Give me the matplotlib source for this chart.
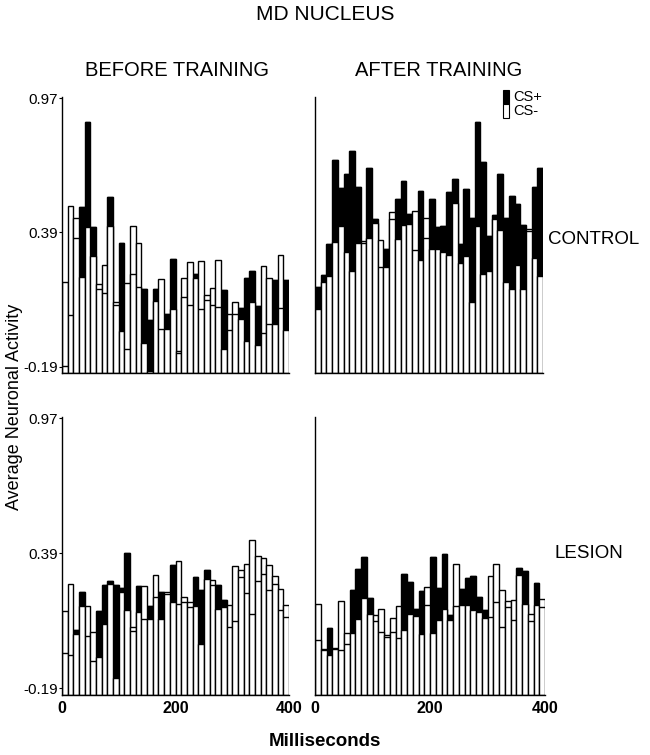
import numpy as np
import matplotlib
matplotlib.use("Agg")
import matplotlib.pyplot as plt
from matplotlib.patches import Rectangle

plt.rcParams['font.family'] = ['Liberation Sans', 'DejaVu Sans']

# 40 bins de 10 ms
bins = np.arange(0, 400, 10)
y_ticks = [-0.19, 0.39, 0.97]
y_labels = ["-0.19", "0.39", "0.97"]
x_ticks = [0, 200, 400]

# CONTROL, antes del entrenamiento
before_ctrl_plus = [-0.186, 0.032, 0.367, 0.501, 0.865, 0.413, 0.143, 0.126, 0.543, 0.074,
                    0.342, -0.116, 0.211, 0.155, 0.143, 0.013, 0.143, -0.027, 0.035, 0.276,
                    -0.131, 0.112, 0.074, 0.208, 0.057, 0.097, 0.074, 0.068, 0.139, -0.033,
                    0.039, 0.064, 0.191, 0.223, 0.071, -0.047, -0.008, 0.184, 0.064, 0.182]
before_ctrl_minus = [0.176, 0.504, 0.454, 0.198, 0.413, 0.288, 0.165, 0.249, 0.417, 0.090,
                     -0.037, 0.172, 0.417, 0.342, -0.088, -0.210, 0.093, 0.187, -0.027, 0.057,
                     -0.124, 0.194, 0.262, 0.194, 0.266, 0.117, 0.150, 0.270, -0.116, 0.039,
                     0.090, 0.016, -0.080, 0.090, -0.099, 0.244, 0.191, -0.008, 0.292, -0.033]

# CONTROL, despues del entrenamiento
after_ctrl_plus = [0.155, 0.205, 0.338, 0.703, 0.580, 0.644, 0.742, 0.586, 0.345, 0.666,
                   0.449, 0.240, 0.316, 0.446, 0.536, 0.612, 0.468, 0.314, 0.569, 0.367,
                   0.536, 0.415, 0.417, 0.566, 0.622, 0.338, 0.579, 0.453, 0.865, 0.692,
                   0.374, 0.465, 0.644, 0.453, 0.547, 0.514, 0.422, 0.396, 0.588, 0.670]
after_ctrl_minus = [0.057, 0.176, 0.201, 0.348, 0.417, 0.306, 0.225, 0.345, 0.352, 0.367,
                    0.432, 0.357, 0.241, 0.478, 0.360, 0.420, 0.425, 0.481, 0.270, 0.454,
                    0.319, 0.316, 0.305, 0.292, 0.518, 0.259, 0.288, 0.090, 0.417, 0.211,
                    0.225, 0.446, 0.400, 0.175, 0.143, 0.249, 0.143, 0.403, 0.280, 0.201]

# LESION, antes del entrenamiento
before_les_plus = [-0.037, -0.048, 0.062, 0.224, 0.035, -0.070, 0.142, 0.255, 0.271, 0.252,
                   0.241, 0.391, 0.056, 0.248, 0.109, 0.162, 0.202, 0.224, 0.214, 0.338,
                   0.174, 0.181, 0.159, 0.288, 0.231, 0.317, 0.252, 0.252, 0.191, 0.073,
                   0.099, 0.288, 0.220, 0.128, 0.270, 0.303, 0.231, 0.260, 0.145, 0.116]
before_les_minus = [0.142, 0.257, 0.045, 0.164, 0.164, 0.052, -0.053, 0.088, 0.260, -0.144,
                    0.224, 0.145, 0.073, 0.138, 0.251, 0.109, 0.295, 0.109, 0.224, 0.181,
                    0.356, 0.202, 0.181, 0.162, 0.002, 0.281, 0.274, 0.152, 0.159, 0.167,
                    0.334, 0.320, 0.343, 0.446, 0.379, 0.371, 0.338, 0.293, 0.238, 0.169]

# LESION, despues del entrenamiento
after_les_plus = [0.020, -0.027, 0.071, -0.021, -0.024, 0.002, 0.231, 0.321, 0.374, 0.198,
                  0.099, 0.052, 0.030, 0.052, 0.028, 0.303, 0.267, 0.152, 0.228, 0.167,
                  0.374, 0.241, 0.389, 0.124, 0.162, 0.238, 0.284, 0.293, 0.202, 0.148,
                  0.116, 0.181, 0.073, 0.159, 0.102, 0.327, 0.313, 0.099, 0.262, 0.159]
after_les_minus = [0.174, -0.020, -0.048, -0.017, 0.185, 0.048, 0.048, 0.106, 0.198, 0.128,
                   0.124, 0.152, 0.040, 0.113, 0.164, 0.063, 0.128, 0.121, 0.042, 0.245,
                   0.048, 0.105, 0.152, 0.105, 0.346, 0.167, 0.169, 0.145, 0.138, 0.113,
                   0.293, 0.346, 0.231, 0.184, 0.188, 0.298, 0.174, 0.128, 0.167, 0.192]

y_min, y_max = -0.218, 0.975
lw = 1.0

fig = plt.figure(figsize=(6.5, 7.55), dpi=100)
W, H = 650, 755


def make_ax(x0, x1, y0, y1):
    # coordenadas en pixeles (y desde arriba)
    return fig.add_axes([x0 / W, 1 - y1 / H, (x1 - x0) / W, (y1 - y0) / H])


def draw_panel(ax, plus, minus, show_y, show_x):
    plus = np.array(plus)
    minus = np.array(minus)
    ax.bar(bins, plus - y_min, bottom=y_min, width=10, align='edge',
           color='black', edgecolor='black', linewidth=lw, zorder=1)
    ax.bar(bins, minus - y_min, bottom=y_min, width=10, align='edge',
           color='white', edgecolor='black', linewidth=lw, zorder=2)
    ax.hlines(plus, bins, bins + 10, color='black', linewidth=lw, zorder=3)
    ax.set_xlim(0, 400)
    ax.set_ylim(y_min, y_max)
    for s in ['top', 'right']:
        ax.spines[s].set_visible(False)
    ax.spines['left'].set_linewidth(1.0)
    ax.spines['bottom'].set_linewidth(1.0)
    ax.set_yticks(y_ticks)
    if show_y:
        ax.set_yticklabels(y_labels, fontsize=11)
        ax.tick_params(axis='y', length=2, width=0.8, pad=1)
    else:
        ax.tick_params(axis='y', length=0, labelleft=False)
    ax.set_xticks(x_ticks)
    if show_x:
        ax.set_xticklabels([str(t) for t in x_ticks], fontsize=11.5, fontweight='bold')
        ax.tick_params(axis='x', length=0, pad=4)
    else:
        ax.tick_params(axis='x', length=0, labelbottom=False)


ax1 = make_ax(62, 289, 97, 373)
ax2 = make_ax(315, 543, 97, 373)
ax3 = make_ax(62, 289, 417, 695)
ax4 = make_ax(315, 545, 417, 695)

draw_panel(ax1, before_ctrl_plus, before_ctrl_minus, True, False)
draw_panel(ax2, after_ctrl_plus, after_ctrl_minus, False, False)
draw_panel(ax3, before_les_plus, before_les_minus, True, True)
draw_panel(ax4, after_les_plus, after_les_minus, False, True)

# textos
fig.text(325 / W, 1 - 15 / H, "MD NUCLEUS", ha='center', va='center', fontsize=15)
fig.text(177 / W, 1 - 70 / H, "BEFORE TRAINING", ha='center', va='center', fontsize=14.5)
fig.text(439 / W, 1 - 70 / H, "AFTER TRAINING", ha='center', va='center', fontsize=14.5)
fig.text(548 / W, 1 - 239 / H, "CONTROL", ha='left', va='center', fontsize=13.5)
fig.text(554 / W, 1 - 553 / H, "LESION", ha='left', va='center', fontsize=13.5)
fig.text(15 / W, 1 - 407 / H, "Average Neuronal Activity", ha='center', va='center',
         rotation=90, fontsize=13)
fig.text(325 / W, 1 - 742 / H, "Milliseconds", ha='center', va='center',
         fontsize=13.5, fontweight='bold')

# leyenda
fig.patches.append(Rectangle((503 / W, 1 - 104 / H), 6 / W, 14 / H, transform=fig.transFigure,
                             facecolor='black', edgecolor='black', linewidth=0.8))
fig.patches.append(Rectangle((503 / W, 1 - 118 / H), 6 / W, 14 / H, transform=fig.transFigure,
                             facecolor='white', edgecolor='black', linewidth=0.8))
fig.text(513 / W, 1 - 97 / H, "CS+", ha='left', va='center', fontsize=10.5)
fig.text(513 / W, 1 - 111 / H, "CS-", ha='left', va='center', fontsize=10.5)

fig.savefig("out.png", dpi=100)
